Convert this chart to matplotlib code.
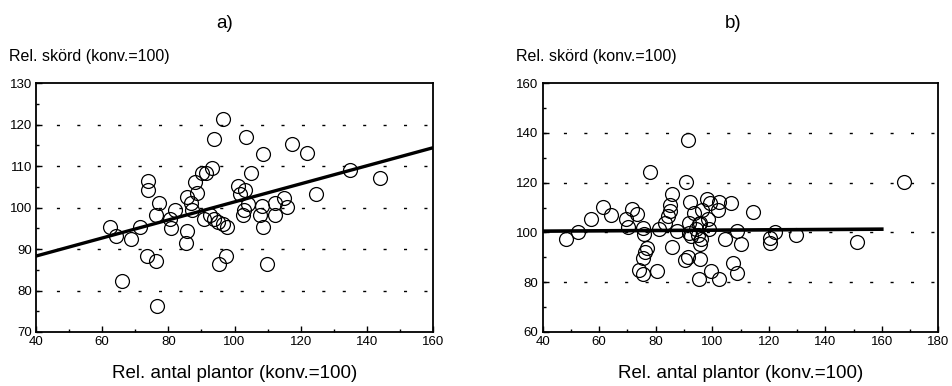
import matplotlib
matplotlib.use("Agg")
import matplotlib.pyplot as plt
from matplotlib.ticker import MultipleLocator

plt.rcParams['font.family'] = ['Liberation Sans', 'DejaVu Sans']

# Panel a data
a_x = [62.4, 64.2, 66.1, 68.8, 71.4, 74.0, 74.0, 73.7, 76.2, 76.2, 77.2, 76.6,
       80.5, 80.7, 82.1, 85.2, 85.7, 85.7, 87.0, 87.1, 88.0, 88.6, 90.1, 91.3,
       90.8, 93.1, 93.7, 92.7, 93.8, 95.1, 96.4, 97.8, 96.4, 95.3, 97.5, 101.2,
       101.7, 103.2, 103.6, 104.9, 102.8, 102.6, 104.0, 107.6, 108.2, 108.5,
       108.5, 109.9, 112.3, 112.1, 115.0, 115.8, 117.5, 121.9, 124.5, 134.8, 143.9]
a_y = [95.3, 93.1, 82.3, 92.3, 95.2, 106.4, 104.1, 88.2, 87.1, 98.2, 101.2, 76.3,
       97.2, 95.0, 99.3, 91.4, 94.4, 102.5, 101.1, 99.5, 106.2, 103.4, 108.2, 108.2,
       97.2, 109.4, 116.4, 98.1, 97.3, 96.5, 96.1, 95.2, 121.3, 86.5, 88.3, 105.3,
       103.3, 104.3, 117.1, 108.2, 99.4, 98.2, 100.8, 98.1, 100.4, 95.2,
       113.0, 86.5, 101.2, 98.1, 102.4, 100.1, 115.2, 113.1, 103.2, 109.1, 107.2]
fit_a_x = [40, 160]
fit_a_y = [88.3, 114.4]

# Panel b data
b_x = [48.3, 52.6, 57.0, 61.3, 64.2, 69.5, 70.3, 71.5, 73.4, 75.6, 75.8, 76.9,
       76.3, 75.4, 74.0, 75.4, 78.1, 80.4, 81.2, 83.2, 84.4, 85.0, 85.2, 85.9,
       85.9, 87.6, 90.6, 91.4, 92.0, 90.3, 91.4, 91.8, 91.9, 93.5, 96.2, 94.4,
       95.2, 95.0, 96.0, 95.6, 95.6, 95.4, 98.0, 99.1, 98.5, 98.8, 102.4, 102.1,
       99.4, 102.4, 104.4, 106.8, 108.6, 110.0, 107.4, 108.8, 114.4, 120.3,
       120.6, 122.2, 129.8, 151.1, 167.8, 92.5, 95.6]
b_y = [97.2, 100.0, 105.2, 110.3, 107.0, 105.5, 102.3, 109.5, 107.4, 101.8, 99.2, 93.7,
       92.0, 89.6, 84.8, 83.4, 124.4, 84.4, 101.5, 103.8, 106.5, 108.5, 111.0, 115.4,
       94.3, 100.4, 120.4, 137.0, 112.3, 89.0, 90.0, 103.7, 99.7, 107.7, 109.0, 101.5,
       103.5, 99.0, 97.5, 95.3, 89.4, 81.4, 113.5, 111.7, 105.5, 101.5, 112.3, 109.0,
       84.6, 81.4, 97.3, 111.7, 100.7, 95.4, 87.6, 83.6, 108.3, 95.6,
       97.6, 100.3, 99.0, 96.3, 120.3, 98.5, 103.9]
fit_b_x = [40, 160]
fit_b_y = [100.5, 101.3]

ylabel_text = "Rel. skörd (konv.=100)"
xlabel_text = "Rel. antal plantor (konv.=100)"

W, H = 952, 386
fig = plt.figure(figsize=(W / 100, H / 100), dpi=100)


def make_axes(left, right, top, bottom):
    return fig.add_axes([left / W, 1 - bottom / H, (right - left) / W, (bottom - top) / H])


def style(ax, xlim, ylim, xmaj, xmin, ymaj, ymin, grid_vals):
    ax.set_xlim(*xlim)
    ax.set_ylim(*ylim)
    ax.xaxis.set_major_locator(MultipleLocator(xmaj))
    ax.xaxis.set_minor_locator(MultipleLocator(xmin))
    ax.yaxis.set_major_locator(MultipleLocator(ymaj))
    ax.yaxis.set_minor_locator(MultipleLocator(ymin))
    ax.tick_params(which='both', direction='in', top=False, right=False,
                   labelsize=9.5, width=1.0, pad=3)
    ax.tick_params(which='major', length=4)
    ax.tick_params(which='minor', length=2.5)
    for s in ax.spines.values():
        s.set_linewidth(1.3)
    for g in grid_vals:
        ax.axhline(g, color='black', lw=1.0, ls=(0, (2.2, 12.5)), zorder=1)


# Panel a
ax1 = make_axes(36, 433, 83, 332)
style(ax1, (40, 160), (70, 130), 20, 10, 10, 5, [80, 90, 100, 110, 120])
ax1.plot(a_x, a_y, 'o', ms=10, mfc='none', mec='black', mew=0.9, zorder=3)
ax1.plot(fit_a_x, fit_a_y, color='black', lw=2.4, zorder=4)
ax1.set_xlabel(xlabel_text, fontsize=13.5, labelpad=12)

# Panel b
ax2 = make_axes(542.7, 938.3, 83, 332)
style(ax2, (40, 180), (60, 160), 20, 10, 20, 10, [80, 100, 120, 140])
ax2.plot(b_x, b_y, 'o', ms=10, mfc='none', mec='black', mew=0.9, zorder=3)
ax2.plot(fit_b_x, fit_b_y, color='black', lw=2.6, zorder=4)
ax2.set_xlabel(xlabel_text, fontsize=13.5, labelpad=12)

# y labels above the axes
fig.text(9 / W, 1 - 57 / H, ylabel_text, fontsize=11.5, va='center', ha='left')
fig.text(516 / W, 1 - 57 / H, ylabel_text, fontsize=11.5, va='center', ha='left')

# Panel titles
fig.text(225 / W, 1 - 23 / H, "a)", fontsize=13.5, va='center', ha='center')
fig.text(733 / W, 1 - 23 / H, "b)", fontsize=13.5, va='center', ha='center')

fig.savefig("out.png", dpi=100)
